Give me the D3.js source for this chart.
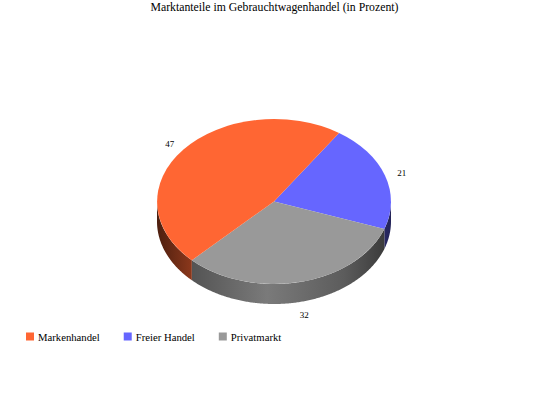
<!DOCTYPE html>
<html>
<head>
<meta charset="utf-8">
<script src="https://cdn.jsdelivr.net/npm/d3@7"></script>
<style>
  html, body { margin: 0; padding: 0; background: #fff; }
  text { font-family: "Liberation Serif", serif; fill: #000; }
</style>
</head>
<body>
<svg id="chart" width="548" height="403"></svg>
<script>
const title = "Marktanteile im Gebrauchtwagenhandel (in Prozent)";
const categories = ["Freier Handel", "Privatmarkt", "Markenhandel"];
const values = [21, 32, 47];
const colors = ["#6666ff", "#999999", "#ff6633"];
const legendOrder = ["Markenhandel", "Freier Handel", "Privatmarkt"];

const width = 548, height = 403;
const cx = 274, cy = 201.5, rx = 117, ry = 82.5, depth = 20;
const startAngle = 33.8 * Math.PI / 180;

const svg = d3.select("#chart");
const defs = svg.append("defs");

const pie = d3.pie().sort(null).startAngle(startAngle).endAngle(startAngle + 2 * Math.PI);
const slices = pie(values);

const color = d3.scaleOrdinal().domain(categories).range(colors);

// angle is clockwise from the top of the ellipse
const ex = (a) => cx + rx * Math.sin(a);
const ey = (a) => cy - ry * Math.cos(a);

const sideGrad = (id, c) => {
  const base = d3.color(c);
  const grad = defs.append("linearGradient")
    .attr("id", id)
    .attr("gradientUnits", "userSpaceOnUse")
    .attr("x1", cx - rx).attr("x2", cx + rx).attr("y1", 0).attr("y2", 0);
  [[0, 0.3], [0.15, 0.55], [0.47, 0.8], [0.8, 0.6], [1, 0.35]].forEach(([o, k]) => {
    grad.append("stop")
      .attr("offset", o)
      .attr("stop-color", d3.rgb(base.r * k, base.g * k, base.b * k));
  });
};

// side walls, only the part of each slice on the front half
const front = [Math.PI / 2, 3 * Math.PI / 2];
const line = d3.line();
slices.forEach((s, i) => {
  const a0 = Math.max(s.startAngle, front[0]);
  const a1 = Math.min(s.endAngle, front[1]);
  if (a1 <= a0) return;
  const id = "side" + i;
  sideGrad(id, color(categories[i]));
  const angles = d3.range(a0, a1, 0.01).concat([a1]);
  const top = angles.map((a) => [ex(a), ey(a)]);
  const bottom = angles.map((a) => [ex(a), ey(a) + depth]).reverse();
  svg.append("path")
    .attr("d", line(top.concat(bottom)) + "Z")
    .attr("fill", `url(#${id})`);
});

// top face
const arc = d3.arc().innerRadius(0).outerRadius(1);
svg.append("g")
  .attr("transform", `translate(${cx},${cy}) scale(${rx},${ry})`)
  .selectAll("path")
  .data(slices)
  .join("path")
  .attr("d", arc)
  .attr("fill", (d, i) => color(categories[i]));

// value labels
svg.append("g")
  .selectAll("text")
  .data(slices)
  .join("text")
  .attr("x", (d) => cx + 1.15 * rx * Math.sin((d.startAngle + d.endAngle) / 2))
  .attr("y", (d) => {
    const m = (d.startAngle + d.endAngle) / 2;
    const lift = Math.cos(m) < 0 ? depth : 0;
    return cy - 1.14 * ry * Math.cos(m) + lift + 1.5;
  })
  .attr("dy", "0.33em")
  .attr("text-anchor", "middle")
  .attr("font-size", 9)
  .text((d) => d.value);

svg.append("text")
  .attr("x", 274.5)
  .attr("y", 11)
  .attr("text-anchor", "middle")
  .attr("font-size", 11.75)
  .text(title);

// legend, each entry starts where the previous text ended
let legendX = 26;
legendOrder.forEach((name) => {
  const g = svg.append("g").attr("transform", `translate(${legendX},332.5)`);
  g.append("rect")
    .attr("width", 8).attr("height", 8)
    .attr("fill", color(name));
  const label = g.append("text")
    .attr("x", 12).attr("y", 8)
    .attr("font-size", 10.7)
    .text(name);
  legendX += 12 + label.node().getComputedTextLength() + 24;
});
</script>
</body>
</html>
